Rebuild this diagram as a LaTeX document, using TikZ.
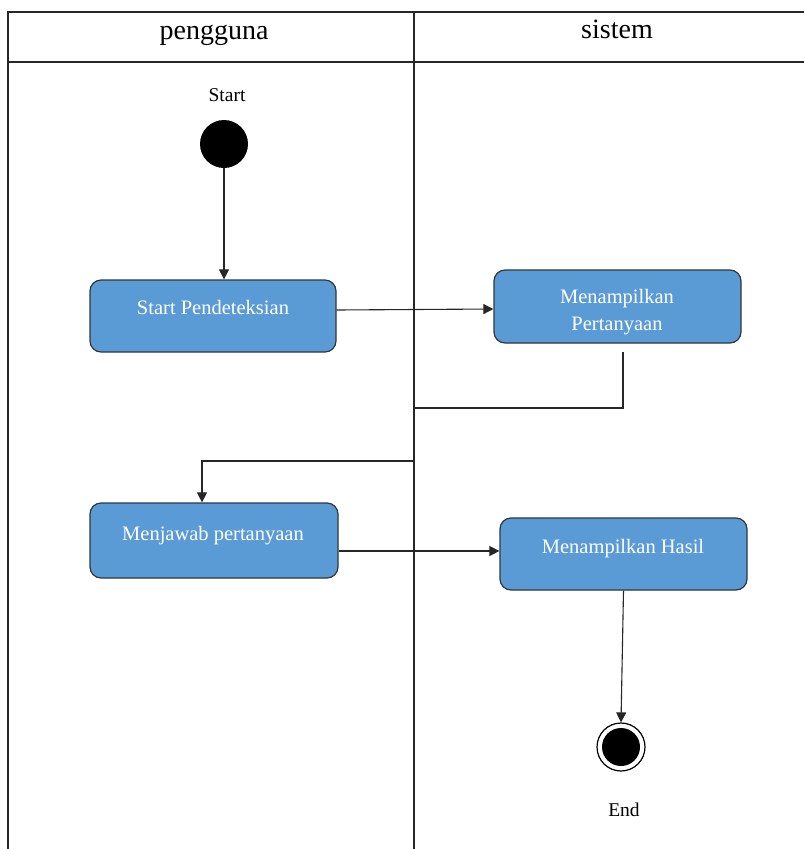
\documentclass[tikz,border=0pt]{standalone}
\usepackage{fontspec}
\setmainfont{Liberation Serif}
\usetikzlibrary{arrows.meta}
\definecolor{boxblue}{HTML}{5B9BD5}
\definecolor{boxedge}{HTML}{2E3640}
\begin{document}
\begin{tikzpicture}[x=1pt,y=-1pt,
  actbox/.style={draw=boxedge, line width=1.2pt, fill=boxblue, rounded corners=11pt, inner sep=0pt, minimum width=#1, minimum height=72pt},
  acttext/.style={text=white, font=\fontsize{20.5}{27}\selectfont, inner sep=0pt, anchor=base},
  lbl/.style={font=\fontsize{19.5}{23}\selectfont, inner sep=0pt, anchor=base},
  hdr/.style={font=\fontsize{28}{32}\selectfont, inner sep=0pt, anchor=base},
  frame/.style={line width=1.3pt, draw=black!85},
  arr/.style={line width=1.1pt, draw=black!85, -{Triangle[length=10pt,width=10pt]}},
  conn/.style={line width=1.1pt, draw=black!85}]
\useasboundingbox (0,0) rectangle (804,849);
% swimlane frame
\draw[frame] (8,849) -- (8,12) -- (804,12);
\draw[frame] (8,62) -- (804,62);
\draw[frame] (414,12) -- (414,849);
\node[hdr] (h1) at (214,39) {pengguna};
\node[hdr] (h2) at (617,38) {sistem};
% start
\node[lbl] (startlbl) at (227,101) {Start};
\node[circle, fill=black, minimum size=48pt, inner sep=0pt] (start) at (224,144) {};
% boxes
\node[actbox=246pt] (b1) at (213,316) {};
\node[acttext] (t1) at (213,314) {Start Pendeteksian};
\node[actbox=247pt, minimum height=73pt] (b2) at (617.5,306.5) {};
\node[acttext] (t2a) at (617,303) {Menampilkan};
\node[acttext] (t2b) at (617,330) {Pertanyaan};
\node[actbox=248pt, minimum height=75pt] (b3) at (214,540.5) {};
\node[acttext] (t3) at (213,540) {Menjawab pertanyaan};
\node[actbox=247pt] (b4) at (623.5,554) {};
\node[acttext] (t4) at (623,553) {Menampilkan Hasil};
% end
\node[circle, draw=black, line width=1.2pt, minimum size=48pt, inner sep=0pt] (end) at (621,747) {};
\node[circle, fill=black, minimum size=38pt, inner sep=0pt] (endin) at (end.center) {};
\node[lbl] (endlbl) at (624,816) {End};
% connectors
\draw[arr] (start.south) -- (start.south |- b1.north);
\draw[arr] ([yshift=6pt]b1.east) -- ([yshift=-2.5pt]b2.west);
\coordinate (c1) at (623,352);
\draw[arr] (c1) -- (623,408) -- (414,408) -- (414,461) -- (202,461) -- (202,461 |- b3.north);
\draw[arr] ([yshift=-10.5pt]b3.east) -- ([yshift=3pt]b4.west);
\draw[arr] (b4.south) -- (end.north);
\end{tikzpicture}
\end{document}
